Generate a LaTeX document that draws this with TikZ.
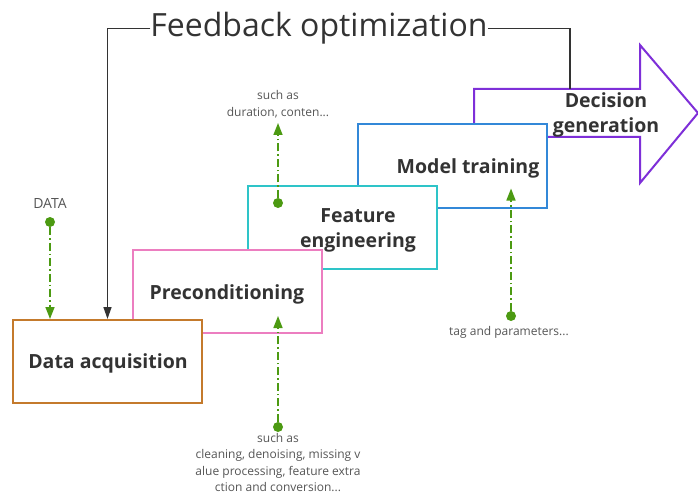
\documentclass[tikz,border=0pt]{standalone}
\usepackage{fontspec}
\setmainfont{Open Sans}
\usetikzlibrary{arrows.meta}
\definecolor{cOrange}{HTML}{C47A2C}
\definecolor{cPink}{HTML}{EC7EC0}
\definecolor{cCyan}{HTML}{2EC4C8}
\definecolor{cBlue}{HTML}{3388D8}
\definecolor{cPurple}{HTML}{7E2FD8}
\definecolor{cGreen}{HTML}{4C9A12}
\definecolor{cText}{HTML}{333333}
\definecolor{cSmall}{HTML}{555555}
\tikzset{
  stagebox/.style={draw=#1, line width=2pt, fill=white, minimum width=189pt, minimum height=83pt, inner sep=0pt},
  stagetext/.style={font=\fontsize{19.5}{24.5}\selectfont\bfseries, text=cText, align=center, inner sep=0pt},
  smalltext/.style={font=\fontsize{12}{16.5}\selectfont, text=cSmall, align=center, inner sep=0pt},
  gdot/.style={circle, fill=cGreen, minimum size=10pt, inner sep=0pt},
  garrow/.style={draw=cGreen, line width=1.5pt, dash pattern=on 8pt off 3pt on 1.5pt off 3pt, -{Triangle[length=12pt,width=9pt]}},
  fbline/.style={draw=cText, line width=1.4pt}
}
\begin{document}
\begin{tikzpicture}[x=1pt,y=-1pt]
\useasboundingbox (0,0) rectangle (698,497);
% decision arrow (back)
\draw[cPurple, line width=2pt, fill=white, line join=miter]
  (474,124) -- (474,89) -- (640,89) -- (640,45) -- (698,113) -- (640,183) -- (640,137) -- (546,137);
\coordinate (arrtop) at (570,89);
% boxes back to front
\node[stagebox=cBlue] (mt) at (452,166) {};
\node[stagebox=cCyan] (fe) at (342,227.5) {};
\node[stagebox=cPink] (pc) at (227.5,291.5) {};
\node[stagebox=cOrange] (da) at (107.5,361.5) {};
% texts
\node[stagetext] (dec) at (606,115) {Decision\\generation};
\node[stagetext] (mtt) at (468,168.5) {Model training};
\node[stagetext] (fet) at (358,230.5) {Feature\\engineering};
\node[stagetext] (pct) at (227,294.5) {Preconditioning};
\node[stagetext] (dat) at (108,363.5) {Data acquisition};
% feedback
\node[font=\fontsize{32}{36}\selectfont, text=cText, inner sep=0pt, anchor=base] (fb) at (319,37) {Feedback optimization};
\draw[fbline, -{Triangle[length=12pt,width=8pt]}] (fb.west) -| (da.north);
\draw[fbline] (fb.east) -| (arrtop);
% DATA input
\node[smalltext, font=\fontsize{14}{16}\selectfont] (datalbl) at (50,203) {DATA};
\node[gdot] (d1) at (50,222) {};
\draw[garrow] (d1) -- (d1 |- da.north);
% duration
\node[smalltext] (durlbl) at (278,104) {such as\\duration, conten...};
\node[gdot] (d2) at (278,203) {};
\coordinate (d2end) at (278,123);
\draw[garrow] (d2) -- (d2end);
% preconditioning input
\node[gdot] (d3) at (278,427) {};
\draw[garrow] (d3) -- ([yshift=18pt]d3 |- pc.south);
\node[smalltext, anchor=north] (prelbl) at (278,433) {such as\\cleaning, denoising, missing v\\alue processing, feature extra\\ction and conversion...};
% model training input
\node[gdot] (d4) at (511,316) {};
\draw[garrow] (d4) -- ([yshift=20pt]d4 |- mt.south);
\node[smalltext, anchor=north] (taglbl) at (509,326) {tag and parameters...};
\end{tikzpicture}
\end{document}
